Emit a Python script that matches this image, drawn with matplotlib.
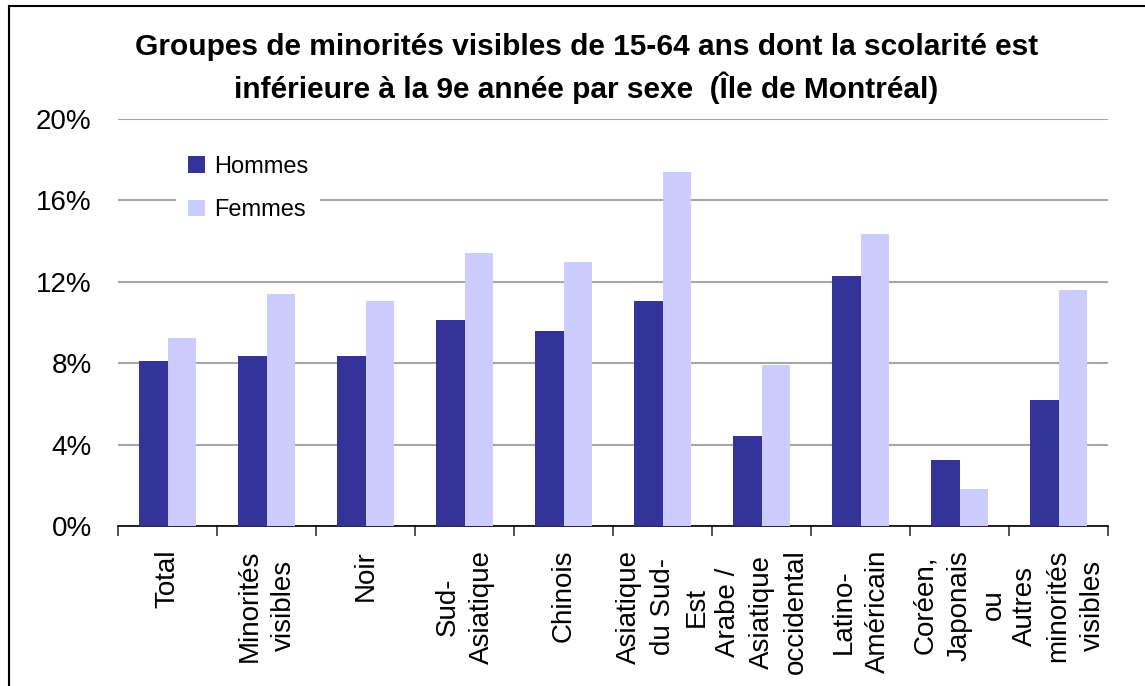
"""
plot.py : visible minority groups 15-64 with schooling below grade 9, by sex
"""
import numpy as np
import matplotlib
matplotlib.use( 'Agg' )
import matplotlib.pyplot as plt
from matplotlib.lines import Line2D

#-------------------------------------------------------------------------
# data
#-------------------------------------------------------------------------

categories = [
  'Total', 'Minorités\nvisibles', 'Noir', 'Sud-\nAsiatique', 'Chinois',
  'Asiatique\ndu Sud-\nEst', 'Arabe /\nAsiatique\noccidental',
  'Latino-\nAméricain', 'Coréen,\nJaponais\nou', 'Autres\nminorités\nvisibles',
]
hommes = [ 8.1, 8.35, 8.35, 10.1, 9.6, 11.05, 4.4, 12.3, 3.25, 6.2 ]
femmes = [ 9.25, 11.4, 11.05, 13.4, 12.95, 17.4, 7.9, 14.35, 1.8, 11.6 ]
yticks = [ 0, 4, 8, 12, 16, 20 ]

title = ( 'Groupes de minorités visibles de 15-64 ans dont la scolarité est\n'
          'inférieure à la 9e année par sexe  (Île de Montréal)' )

c_h = '#333399'
c_f = '#ccccff'

#-------------------------------------------------------------------------
# plot
#-------------------------------------------------------------------------

plt.rcParams['font.family'] = [ 'Liberation Sans', 'DejaVu Sans' ]

fig = plt.figure( figsize=(11.45, 6.86), dpi=100 )
ax  = fig.add_axes( [ 0.1031, 0.2332, 0.8646, 0.5933 ] )

ind   = np.arange( len(categories) )
width = 0.29

ax.bar( ind - 0.145, hommes, width, color=c_h, label='Hommes', zorder=3 )
ax.bar( ind + 0.145, femmes, width, color=c_f, label='Femmes', zorder=3 )

ax.set_xlim( -0.5, len(categories) - 0.5 )
ax.set_ylim( 0, 20 )

# y axis
ax.set_yticks( yticks )
ax.set_yticklabels( [ f'{v}%' for v in yticks ], fontsize=20 )
ax.tick_params( axis='y', length=0, pad=19 )
ax.yaxis.grid( True, color='#a6a6a6', linewidth=1.5, zorder=0 )

# x axis: labels at centres, tick marks at boundaries
ax.set_xticks( ind )
ax.set_xticklabels( categories, rotation=90, fontsize=20, va='top',
                    ha='center', multialignment='center', linespacing=1.4 )
ax.set_xticks( np.arange( len(categories) + 1 ) - 0.5, minor=True )
ax.tick_params( axis='x', which='major', length=0, pad=17 )
ax.tick_params( axis='x', which='minor', length=7, width=1.2, color='#333333' )

for side in [ 'left', 'right', 'top' ]:
  ax.spines[side].set_visible( False )
ax.spines['bottom'].set_linewidth( 1.2 )

leg = ax.legend( loc='upper left', bbox_to_anchor=(0.047, 0.968), fontsize=17,
                 frameon=True, framealpha=1.0, edgecolor='white',
                 handlelength=0.7, handleheight=0.7, handletextpad=0.4,
                 labelspacing=0.92, borderpad=0.5 )
leg.get_frame().set_linewidth( 0 )

fig.text( 0.512, 0.9, title, ha='center', va='center', fontsize=21.5,
          fontweight='bold', linespacing=1.4 )

# outer frame (left and top edges)
fig.add_artist( Line2D( [ 9/1145, 9/1145 ], [ 0, 1 - 6/686 ], color='black',
                        linewidth=1.5 ) )
fig.add_artist( Line2D( [ 9/1145, 1 ], [ 1 - 6/686, 1 - 6/686 ], color='black',
                        linewidth=1.5 ) )

fig.savefig( 'out.png', dpi=100 )
